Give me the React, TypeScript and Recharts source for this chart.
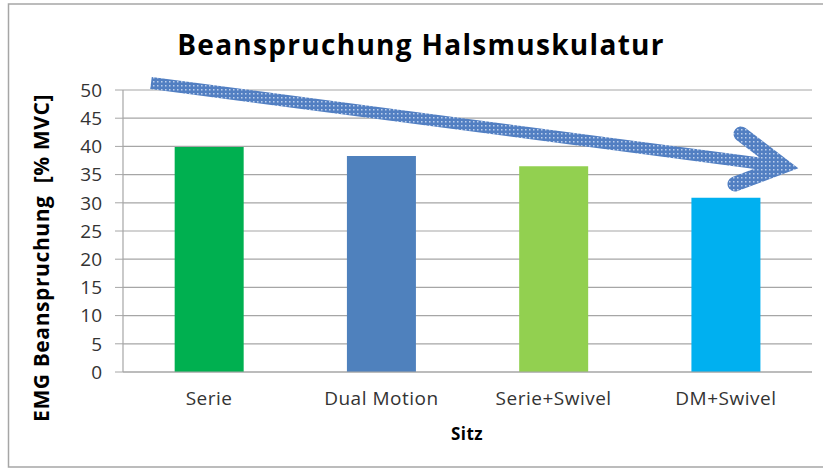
import { Bar, BarChart, CartesianGrid, Cell, XAxis, YAxis } from "recharts"

const categories = ["Serie", "Dual Motion", "Serie+Swivel", "DM+Swivel"]
const values = [39.9, 38.3, 36.5, 30.9]
const barColors = ["#00b050", "#4f81bd", "#92d050", "#00b0f0"]
const yTicks = [0, 5, 10, 15, 20, 25, 30, 35, 40, 45, 50]

const data = categories.map((name, i) => ({ name, value: values[i] }))

const font = "'Open Sans', sans-serif"

// decorative trend arrow drawn over the plot
function TrendArrow() {
  return (
    <svg width={823} height={470} style={{ position: "absolute", left: 0, top: 0, pointerEvents: "none" }}>
      <defs>
        <pattern id="hatch" width={4} height={4} patternUnits="userSpaceOnUse">
          <rect width={4} height={4} fill="#527fc2" />
          <rect x={1} y={1} width={1.5} height={1.5} fill="#bccfec" />
        </pattern>
      </defs>
      <path d="M151 83 L778 166" stroke="url(#hatch)" strokeWidth={12} fill="none" />
      <path
        d="M741 134 L783 166 L735 184"
        stroke="url(#hatch)"
        strokeWidth={15}
        strokeLinecap="round"
        strokeLinejoin="miter"
        fill="none"
      />
    </svg>
  )
}

export default function App() {
  return (
    <div style={{ position: "absolute", left: 0, top: 0, width: 823, height: 470, background: "#fff", fontFamily: font }}>
      <svg width={823} height={470} style={{ position: "absolute", left: 0, top: 0 }}>
        <path d="M823 4 H8.5 V467 H823" stroke="#a6a6a6" strokeWidth={1.5} fill="none" />
        <text x={421} y={55} textAnchor="middle" fontSize={28} letterSpacing={1.3} fontWeight="bold" fill="#000" fontFamily={font}>
          Beanspruchung Halsmuskulatur
        </text>
        <text
          x={0}
          y={0}
          transform="translate(49 258) rotate(-90)"
          textAnchor="middle"
          fontSize={21}
          letterSpacing={0.6}
          fontWeight="bold"
          fill="#000"
          fontFamily={font}
        >
          {"EMG Beanspruchung\u00a0 [% MVC]"}
        </text>
        <text x={467} y={440} textAnchor="middle" fontSize={17} letterSpacing={0.5} fontWeight="bold" fill="#000" fontFamily={font}>
          Sitz
        </text>
      </svg>
      <div style={{ position: "absolute", left: 0, top: 0 }}>
        <BarChart
          width={823}
          height={470}
          data={data}
          margin={{ top: 90, right: 11, bottom: 68, left: 0 }}
          barCategoryGap="30%"
        >
          <CartesianGrid vertical={false} stroke="#a6a6a6" strokeWidth={1.2} />
          <XAxis
            dataKey="name"
            tickLine={false}
            axisLine={{ stroke: "#a6a6a6", strokeWidth: 1.2 }}
            tick={{ fill: "#333", fontSize: 19, letterSpacing: 0.5, fontFamily: font }}
            tickMargin={14}
            interval={0}
          />
          <YAxis
            width={123}
            domain={[0, 50]}
            ticks={yTicks}
            interval={0}
            tickSize={8}
            tickMargin={13}
            tickLine={{ stroke: "#a6a6a6" }}
            axisLine={{ stroke: "#a6a6a6", strokeWidth: 1.2 }}
            tick={{ fill: "#333", fontSize: 19, fontFamily: font }}
          />
          <Bar dataKey="value" isAnimationActive={false}>
            {data.map((d, i) => (
              <Cell key={d.name} fill={barColors[i]} />
            ))}
          </Bar>
        </BarChart>
      </div>
      <TrendArrow />
    </div>
  )
}
